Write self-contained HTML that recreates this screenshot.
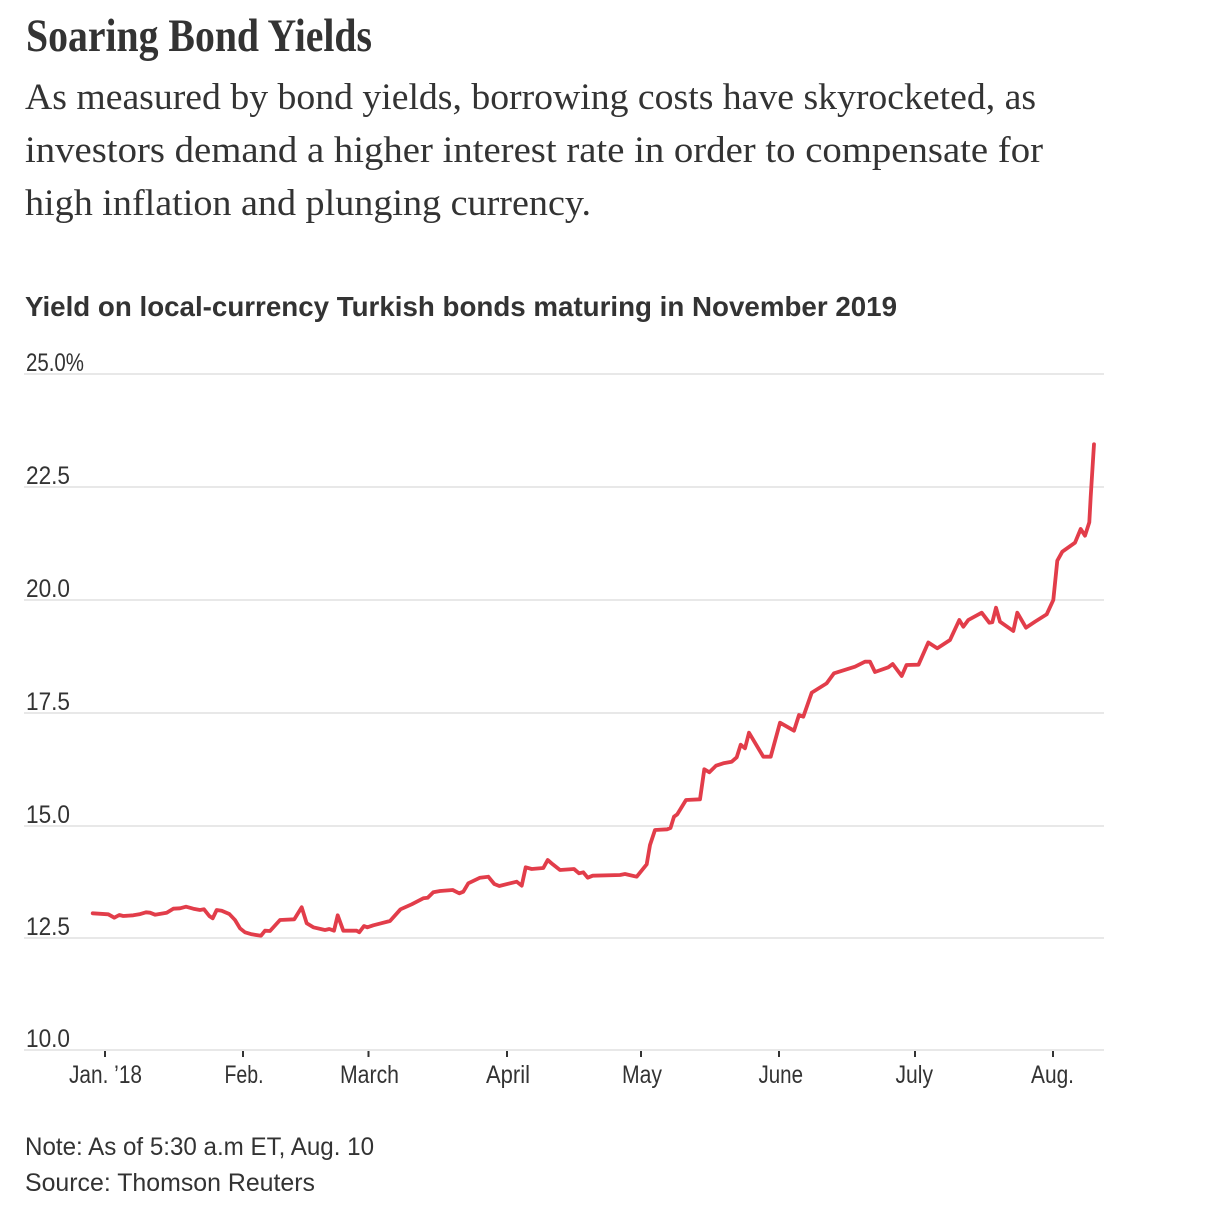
<!DOCTYPE html>
<html>
<head>
<meta charset="utf-8">
<style>
  html, body { margin:0; padding:0; background:#fff; }
  svg { display:block; }
</style>
</head>
<body>
<svg width="1206" height="1208" viewBox="0 0 1206 1208" xmlns="http://www.w3.org/2000/svg">
  <rect width="1206" height="1208" fill="#fff"/>
  <!-- Title -->
  <text x="26" y="51" font-family="Liberation Serif, serif" font-weight="bold" font-size="47" fill="#333" textLength="346" lengthAdjust="spacingAndGlyphs">Soaring Bond Yields</text>
  <!-- Subtitle -->
  <g font-family="Liberation Serif, serif" font-size="37" fill="#333">
    <text x="25" y="109" textLength="1011" lengthAdjust="spacingAndGlyphs">As measured by bond yields, borrowing costs have skyrocketed, as</text>
    <text x="25" y="162" textLength="1018" lengthAdjust="spacingAndGlyphs">investors demand a higher interest rate in order to compensate for</text>
    <text x="25" y="215" textLength="566" lengthAdjust="spacingAndGlyphs">high inflation and plunging currency.</text>
  </g>
  <!-- Chart title -->
  <text x="25" y="316" font-family="Liberation Sans, sans-serif" font-weight="bold" font-size="28" fill="#333" textLength="872" lengthAdjust="spacingAndGlyphs">Yield on local-currency Turkish bonds maturing in November 2019</text>

  <!-- Gridlines -->
  <g stroke="#e0e0e0" stroke-width="1.6">
    <line x1="24" y1="374" x2="1104" y2="374"/>
    <line x1="24" y1="487" x2="1104" y2="487"/>
    <line x1="24" y1="600" x2="1104" y2="600"/>
    <line x1="24" y1="713" x2="1104" y2="713"/>
    <line x1="24" y1="826" x2="1104" y2="826"/>
    <line x1="24" y1="938" x2="1104" y2="938"/>
    <line x1="24" y1="1050" x2="1104" y2="1050"/>
  </g>

  <!-- Y labels -->
  <g font-family="Liberation Sans, sans-serif" font-size="25" fill="#333">
    <text x="26" y="371" textLength="58" lengthAdjust="spacingAndGlyphs">25.0%</text>
    <text x="26" y="484" textLength="44" lengthAdjust="spacingAndGlyphs">22.5</text>
    <text x="26" y="597" textLength="44" lengthAdjust="spacingAndGlyphs">20.0</text>
    <text x="26" y="710" textLength="44" lengthAdjust="spacingAndGlyphs">17.5</text>
    <text x="26" y="823" textLength="44" lengthAdjust="spacingAndGlyphs">15.0</text>
    <text x="26" y="935" textLength="44" lengthAdjust="spacingAndGlyphs">12.5</text>
    <text x="26" y="1047" textLength="44" lengthAdjust="spacingAndGlyphs">10.0</text>
  </g>

  <!-- X ticks -->
  <g stroke="#333" stroke-width="2">
    <line x1="105" y1="1051" x2="105" y2="1057"/>
    <line x1="243" y1="1051" x2="243" y2="1057"/>
    <line x1="368.5" y1="1051" x2="368.5" y2="1057"/>
    <line x1="507" y1="1051" x2="507" y2="1057"/>
    <line x1="641" y1="1051" x2="641" y2="1057"/>
    <line x1="779" y1="1051" x2="779" y2="1057"/>
    <line x1="915" y1="1051" x2="915" y2="1057"/>
    <line x1="1053" y1="1051" x2="1053" y2="1057"/>
  </g>
  <!-- X labels -->
  <g font-family="Liberation Sans, sans-serif" font-size="25" fill="#333">
    <text x="69" y="1083" textLength="73" lengthAdjust="spacingAndGlyphs">Jan. ’18</text>
    <text x="224.5" y="1083" textLength="39" lengthAdjust="spacingAndGlyphs">Feb.</text>
    <text x="340" y="1083" textLength="59" lengthAdjust="spacingAndGlyphs">March</text>
    <text x="486" y="1083" textLength="44" lengthAdjust="spacingAndGlyphs">April</text>
    <text x="622" y="1083" textLength="40" lengthAdjust="spacingAndGlyphs">May</text>
    <text x="758.5" y="1083" textLength="44.5" lengthAdjust="spacingAndGlyphs">June</text>
    <text x="895.5" y="1083" textLength="37.5" lengthAdjust="spacingAndGlyphs">July</text>
    <text x="1031" y="1083" textLength="43" lengthAdjust="spacingAndGlyphs">Aug.</text>
  </g>

  <!-- Data line -->
  <polyline fill="none" stroke="#e23d4a" stroke-width="3.8" stroke-linejoin="round" stroke-linecap="round"
    points="92.7,913.3 108.3,914.3 114.3,917.7 119.3,915 123.3,916 133.3,915.3 139.3,914.3 146,912.3 150,912.7 155,914.7 166.7,912.7 173.3,908.7 180,908.3 186,906.7 193.3,908.7 200,910 204,909.3 209.3,916 212.7,918.3 216.7,910 221.7,910.7 229.3,914 235,920 240,928.3 245,932.3 251.7,934.3 261,935.7 265,930.7 270,931 280,920 294.3,919.3 301.7,907.3 306.7,923.3 313.3,927.3 325,930 329.3,929 334,930.7 337.7,915.3 343.3,930.7 356.7,930.7 359.3,932.3 364,926 367.3,927.3 373.3,925.3 390,921 400.5,909.3 411.7,904.3 423.3,898.3 427.7,897.7 433.3,892.3 440,891 452.7,890 459.3,893.3 463.3,891.7 468.3,883.3 480,877.7 488.3,876.7 494.3,884 499.3,886 516.7,881.7 521.7,885.7 525.7,867.3 531.7,869 543.3,868 547.7,860 552.7,864.3 560,870 574,869 579,873.3 583.3,872.3 587.7,877.7 592.7,875.7 620,875 625,874 636.7,876.7 646.7,864.3 650,845 655,830 667.3,829.3 670.5,828 674,816.7 677.3,814.3 686,800 700,799.3 704.3,769.3 709.3,772.3 716,765.7 723.3,763.3 731.7,761.7 736.7,757.3 740.7,744.7 745,748.3 749,732.7 763.3,756.7 770.7,756.7 780,722.7 794,730.7 799,715 803.3,716.7 811.7,692.7 826.7,683.3 834,673.3 855,666.7 865,661.7 870,661.7 875,672 888.3,667.3 892.7,664 901.7,676 906.5,665 918.5,664.7 928.3,642.5 937.3,648.3 950,640 959.3,620 963.3,626.7 968.3,620 981.7,612.7 989.3,622.7 992.3,622.3 996,607.7 1000,621.7 1013.3,631 1017.3,612.7 1026,627.7 1035,621.7 1046.7,614.3 1053.3,600 1057.3,560.7 1062.3,551.7 1075,542.7 1080.7,529 1085,535.7 1089.3,522.3 1090.7,496.7 1094,444.3"/>

  <!-- Notes -->
  <g font-family="Liberation Sans, sans-serif" font-size="25" fill="#333">
    <text x="25" y="1155" textLength="349" lengthAdjust="spacingAndGlyphs">Note: As of 5:30 a.m ET, Aug. 10</text>
    <text x="25" y="1191" textLength="290" lengthAdjust="spacingAndGlyphs">Source: Thomson Reuters</text>
  </g>
</svg>
</body>
</html>
